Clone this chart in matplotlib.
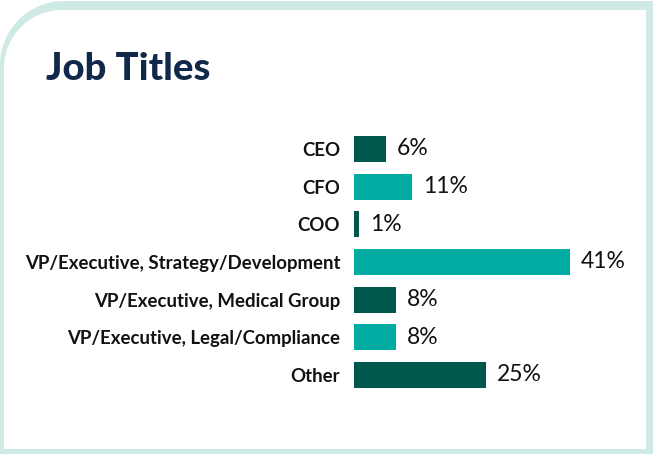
import numpy as np
import matplotlib
matplotlib.use("Agg")
import matplotlib.pyplot as plt
from matplotlib.patches import Polygon

# Data
categories = ["CEO", "CFO", "COO", "VP/Executive, Strategy/Development",
              "VP/Executive, Medical Group", "VP/Executive, Legal/Compliance", "Other"]
values = [6, 11, 1, 41, 8, 8, 25]
value_labels = ["6%", "11%", "1%", "41%", "8%", "8%", "25%"]

DARK = "#00574b"
LIGHT = "#00aca1"
FRAME = "#cfe9e6"
TITLE = "#10294a"

W, H = 653, 454
fig = plt.figure(figsize=(W / 100, H / 100), dpi=100)
fig.patch.set_facecolor("white")


def rounded_tl(x0, y0, x1, y1, r):
    """Rectangle (pixel coords, y down) with only the top-left corner rounded."""
    t = np.linspace(np.pi, 1.5 * np.pi, 30)
    arc = np.column_stack([x0 + r + r * np.cos(t), y0 + r + r * np.sin(t)])
    pts = [[x0, y1]] + arc.tolist() + [[x1, y0], [x1, y1]]
    return pts


# Frame
bg = fig.add_axes([0, 0, 1, 1], zorder=0)
bg.set_xlim(0, W)
bg.set_ylim(H, 0)
bg.axis("off")
bg.add_patch(Polygon(rounded_tl(0, 1, W, H, 64), closed=True, facecolor=FRAME, edgecolor="none"))
bg.add_patch(Polygon(rounded_tl(4, 10, 646, 449, 58), closed=True, facecolor="white", edgecolor="none"))

fig.text(46 / W, 1 - 80 / H, "Job Titles", family="Lato", fontweight="black",
         fontsize=27.5, color=TITLE, va="baseline", ha="left")

# Bars
ax = fig.add_axes([354 / W, 0.1326, 263.5 / W, 0.5808], zorder=1)
ax.patch.set_alpha(0)
y = np.arange(len(categories))
colors = [DARK if i % 2 == 0 else LIGHT for i in range(len(categories))]
ax.barh(y, values, height=0.69, color=colors)
ax.set_xlim(0, 50)
ax.set_ylim(len(categories) - 0.5, -0.5)

for yi, v, lab in zip(y, values, value_labels):
    ax.annotate(lab, (v, yi), xytext=(8, 0), textcoords="offset points",
                va="center", ha="left", family="Lato", fontsize=16.5, color="#111111")

ax.set_yticks(y)
ax.set_yticklabels(categories, family="Lato", fontweight="bold", fontsize=13.4, color="#111111")
ax.tick_params(axis="y", length=0, pad=10)
ax.set_xticks([])
for s in ax.spines.values():
    s.set_visible(False)

fig.savefig("out.png", dpi=100)
